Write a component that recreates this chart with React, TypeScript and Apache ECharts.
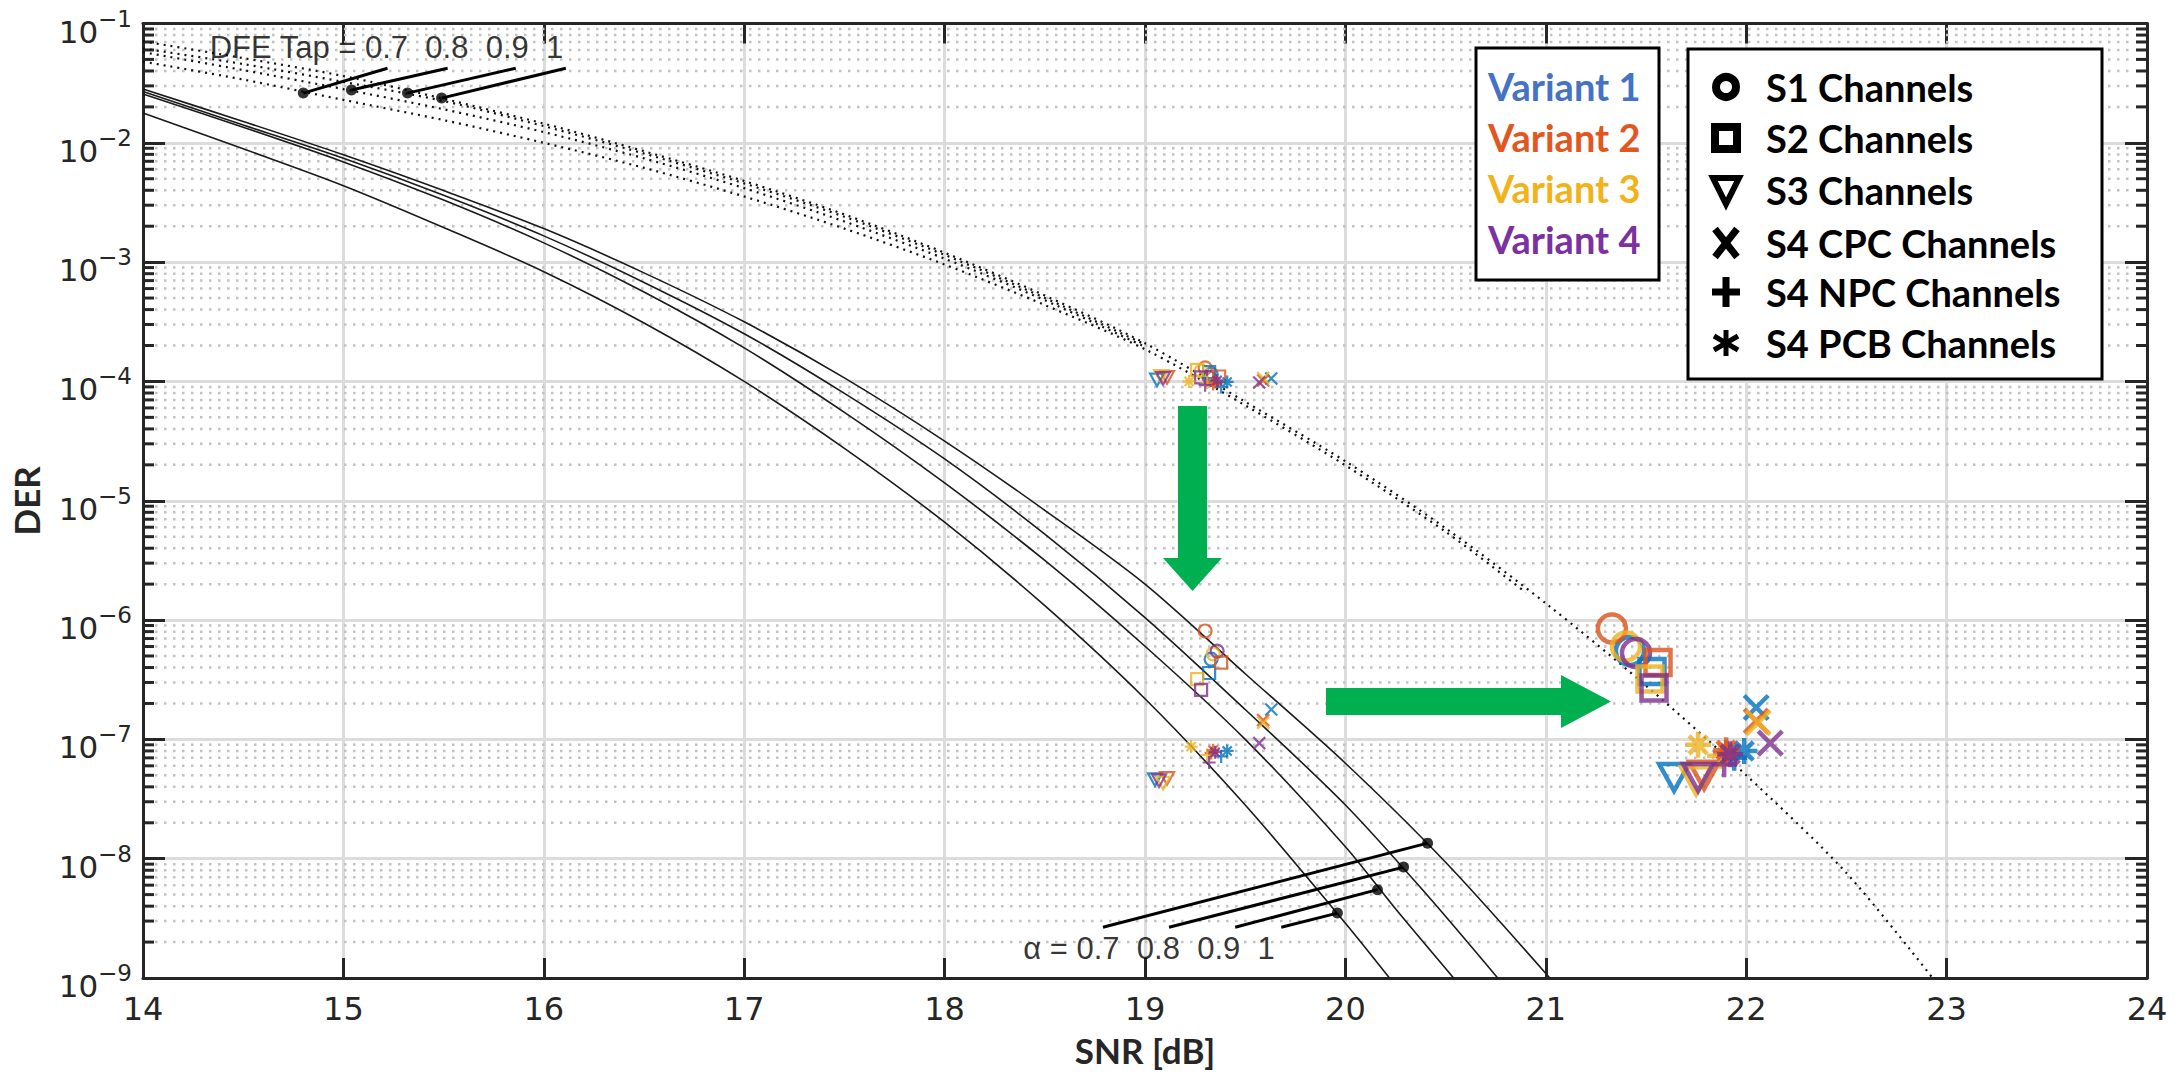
import React, { useEffect, useRef } from "react";
import * as echarts from "echarts";

// ---------------- data ----------------
// DFE (dotted) curves: head part differs per tap, tail (beyond 19 dB) is shared
const SNR_DFE_HEAD = [14, 14.5, 15, 15.5, 16, 16.5, 17, 17.5, 18, 18.5, 19];
const DER_DFE_TAP_07 = [4.79e-2, 3.39e-2, 2.29e-2, 1.55e-2, 1.0e-2, 6.17e-3, 3.55e-3, 1.91e-3, 9.55e-4, 4.37e-4, 1.86e-4];
const DER_DFE_TAP_08 = [5.75e-2, 4.07e-2, 2.82e-2, 1.91e-2, 1.23e-2, 7.41e-3, 4.17e-3, 2.19e-3, 1.07e-3, 4.79e-4, 1.95e-4];
const DER_DFE_TAP_09 = [6.17e-2, 4.57e-2, 3.24e-2, 2.24e-2, 1.38e-2, 8.13e-3, 4.57e-3, 2.4e-3, 1.15e-3, 5.01e-4, 2.04e-4];
const DER_DFE_TAP_10 = [7.08e-2, 5.13e-2, 3.63e-2, 2.34e-2, 1.45e-2, 8.51e-3, 4.79e-3, 2.51e-3, 1.2e-3, 5.25e-4, 2.09e-4];
const SNR_DFE_TAIL = [19.5, 20, 20.5, 21, 21.5, 22, 22.5, 22.93];
const DER_DFE_TAIL = [6.76e-5, 2.14e-5, 5.89e-6, 1.38e-6, 2.82e-7, 5.01e-8, 7.59e-9, 1.0e-9];
const SNR_DFE_TAIL_B = [19.5, 20, 20.5, 20.9];
const DER_DFE_TAIL_B = [6.3e-5, 1.98e-5, 5.5e-6, 1.7e-6];

// alpha (solid) curves
const SNR_A07 = [14, 14.5, 15, 15.5, 16, 16.5, 17, 17.5, 18, 18.5, 19, 19.5, 20, 20.5, 21.02];
const DER_A07 = [2.82e-2, 1.51e-2, 7.94e-3, 3.98e-3, 1.91e-3, 8.13e-4, 3.16e-4, 1.07e-4, 3.16e-5, 8.32e-6, 2.0e-6, 3.55e-7, 6.31e-8, 9.33e-9, 1.0e-9];
const SNR_A08 = [14, 14.5, 15, 15.5, 16, 16.5, 17, 17.5, 18, 18.5, 19, 19.5, 20, 20.4, 20.76];
const DER_A08 = [2.69e-2, 1.41e-2, 7.41e-3, 3.63e-3, 1.66e-3, 6.76e-4, 2.51e-4, 7.94e-5, 2.24e-5, 5.25e-6, 1.05e-6, 1.78e-7, 2.82e-8, 5.13e-9, 1.0e-9];
const SNR_A09 = [14, 14.5, 15, 15.5, 16, 16.5, 17, 17.5, 18, 18.5, 19, 19.5, 20, 20.25, 20.54];
const DER_A09 = [2.57e-2, 1.35e-2, 6.92e-3, 3.31e-3, 1.45e-3, 5.62e-4, 1.91e-4, 5.5e-5, 1.41e-5, 3.16e-6, 6.03e-7, 1.0e-7, 1.26e-8, 3.8e-9, 1.0e-9];
const SNR_A10 = [14, 14.5, 15, 15.5, 16, 16.5, 17, 17.5, 18, 18.5, 19, 19.5, 20, 20.22];
const DER_A10 = [1.78e-2, 8.91e-3, 4.37e-3, 1.95e-3, 8.32e-4, 3.09e-4, 1.0e-4, 2.75e-5, 6.61e-6, 1.32e-6, 2.19e-7, 2.82e-8, 2.88e-9, 1.0e-9];

// channel markers: [SNR, DER] for Variant 1..4
const S1_TOP = [[19.33, 1.15e-4], [19.3, 1.3e-4], [19.28, 1.22e-4], [19.32, 1.08e-4]];
const S1_MID = [[19.33, 4.7e-7], [19.3, 8.1e-7], [19.34, 5.2e-7], [19.36, 5.5e-7]];
const S1_RIGHT = [[21.42, 5.5e-7], [21.33, 8.5e-7], [21.4, 6.0e-7], [21.45, 5.3e-7]];
const S2_TOP = [[19.32, 1.2e-4], [19.37, 1.1e-4], [19.26, 1.25e-4], [19.28, 1.08e-4]];
const S2_MID = [[19.32, 3.6e-7], [19.38, 4.4e-7], [19.26, 3.2e-7], [19.28, 2.6e-7]];
const S2_RIGHT = [[21.53, 3.7e-7], [21.56, 4.4e-7], [21.52, 3.2e-7], [21.54, 2.7e-7]];
const S3_TOP = [[19.06, 1.03e-4], [19.11, 1.08e-4], [19.08, 1.1e-4], [19.09, 1.06e-4]];
const S3_MID = [[19.05, 4.6e-8], [19.11, 4.7e-8], [19.09, 4.3e-8], [19.07, 4.5e-8]];
const S3_RIGHT = [[21.64, 4.8e-8], [21.79, 5.0e-8], [21.75, 4.5e-8], [21.76, 4.8e-8]];
const CPC_TOP = [[19.63, 1.06e-4], [19.59, 1.02e-4], [19.59, 1.07e-4], [19.57, 9.8e-5]];
const CPC_MID = [[19.63, 1.78e-7], [19.59, 1.45e-7], [19.59, 1.38e-7], [19.57, 9.3e-8]];
const CPC_RIGHT = [[22.05, 1.85e-7], [22.05, 1.42e-7], [22.06, 1.38e-7], [22.12, 9.3e-8]];
const NPC_TOP = [[19.38, 9.0e-5], [19.34, 9.5e-5], [19.31, 9.8e-5], [19.3, 9.3e-5]];
const NPC_MID = [[19.38, 7.2e-8], [19.33, 7.7e-8], [19.31, 7.4e-8], [19.32, 6.4e-8]];
const NPC_RIGHT = [[21.94, 7.0e-8], [21.9, 7.6e-8], [21.87, 7.3e-8], [21.89, 6.2e-8]];
const PCB_TOP = [[19.41, 9.9e-5], [19.35, 9.9e-5], [19.22, 1.0e-4], [19.36, 1.02e-4]];
const PCB_MID = [[19.41, 8.0e-8], [19.34, 8.1e-8], [19.23, 8.7e-8], [19.35, 7.8e-8]];
const PCB_RIGHT = [[21.99, 8.0e-8], [21.9, 8.1e-8], [21.76, 9.0e-8], [21.92, 7.5e-8]];

// annotations
const DFE_LABEL = "DFE Tap = 0.7  0.8  0.9  1";
const DFE_LABEL_AT = [14.33, 6.3e-2];
const DFE_DOTS = [[14.8, 2.61e-2], [15.04, 2.77e-2], [15.32, 2.61e-2], [15.49, 2.37e-2]];
const DFE_LEADER_FROM = [[15.22, 4.22e-2], [15.52, 4.22e-2], [15.86, 4.22e-2], [16.11, 4.22e-2]];
const ALPHA_LABEL = "\u03b1 = 0.7  0.8  0.9  1";
const ALPHA_LABEL_AT = [18.39, 1.78e-9];
const ALPHA_DOTS = [[20.41, 1.35e-8], [20.29, 8.5e-9], [20.16, 5.5e-9], [19.96, 3.5e-9]];
const ALPHA_LEADER_FROM = [[18.79, 2.66e-9], [19.12, 2.66e-9], [19.45, 2.66e-9], [19.68, 2.66e-9]];

const VARIANT_LABELS = ["Variant 1", "Variant 2", "Variant 3", "Variant 4"];
const VARIANT_TEXT_COLORS = ["#4472C4", "#E2561F", "#F2B21A", "#7B319F"];
const MARKER_COLORS = ["#0072BD", "#D95319", "#EDB120", "#7E2F8E"];
const CHANNEL_LABELS = ["S1 Channels", "S2 Channels", "S3 Channels", "S4 CPC Channels", "S4 NPC Channels", "S4 PCB Channels"];

// ---------------- styling ----------------
const AXIS = "#262626";
const GRID = { left: 137, top: 17, width: 2010, height: 961 };

const P_CIRCLE = "path://M10,5A5,5 0 1,1 0,5A5,5 0 1,1 10,5Z";
const P_SQUARE = "path://M0,0L10,0L10,10L0,10Z";
const P_TRI = "path://M0,0L10,0L5,9Z";
const P_X = "path://M0,0L10,10M10,0L0,10";
const P_PLUS = "path://M5,0L5,10M0,5L10,5";
const P_STAR = "path://M5,0L5,10M0,5L10,5M1.5,1.5L8.5,8.5M8.5,1.5L1.5,8.5";

const SHAPES = [
  { path: P_CIRCLE, small: 13, big: 28, groups: [S1_TOP, S1_MID, S1_RIGHT] },
  { path: P_SQUARE, small: 12, big: 25, groups: [S2_TOP, S2_MID, S2_RIGHT] },
  { path: P_TRI, small: 14, big: 30, groups: [S3_TOP, S3_MID, S3_RIGHT] },
  { path: P_X, small: 12, big: 24, groups: [CPC_TOP, CPC_MID, CPC_RIGHT] },
  { path: P_PLUS, small: 13, big: 26, groups: [NPC_TOP, NPC_MID, NPC_RIGHT] },
  { path: P_STAR, small: 13, big: 26, groups: [PCB_TOP, PCB_MID, PCB_RIGHT] },
];

const zip = (xs: number[], ys: number[]) => xs.map((x, i) => [x, ys[i]]);

function buildOption() {
  const minorTicks: number[][] = [];
  for (let e = -9; e <= -2; e++) {
    for (let k = 2; k <= 9; k++) minorTicks.push([14, k * Math.pow(10, e)]);
  }

  const series: any[] = [];

  series.push({
    type: "custom",
    name: "minor-grid",
    xAxisIndex: 0,
    yAxisIndex: 0,
    z: 1,
    silent: true,
    clip: false,
    encode: { x: 0, y: 1 },
    data: minorTicks,
    renderItem: (params: any, api: any) => {
      const p = api.coord([14, api.value(1)]);
      const cs = params.coordSys;
      const y = p[1];
      return {
        type: "group",
        children: [
          {
            type: "line",
            shape: { x1: cs.x + 12, y1: y, x2: cs.x + cs.width - 12, y2: y },
            style: { stroke: "#c2c2c2", lineWidth: 2.5, lineDash: [2.5, 6.5] },
          },
          { type: "line", shape: { x1: cs.x, y1: y, x2: cs.x + 11, y2: y }, style: { stroke: AXIS, lineWidth: 3 } },
          {
            type: "line",
            shape: { x1: cs.x + cs.width - 11, y1: y, x2: cs.x + cs.width, y2: y },
            style: { stroke: AXIS, lineWidth: 3 },
          },
        ],
      };
    },
  });

  const dotted = { color: "#111", width: 2.2, type: [2, 5] };
  const dfe = [DER_DFE_TAP_07, DER_DFE_TAP_08, DER_DFE_TAP_09, DER_DFE_TAP_10];
  dfe.forEach((arr, i) => {
    let data = zip(SNR_DFE_HEAD, arr);
    if (i === 3) data = data.concat(zip(SNR_DFE_TAIL, DER_DFE_TAIL));
    if (i === 0) data = data.concat(zip(SNR_DFE_TAIL_B, DER_DFE_TAIL_B));
    series.push({
      type: "line",
      name: "DFE " + i,
      z: 2,
      silent: true,
      showSymbol: false,
      smooth: 0.3,
      data,
      lineStyle: dotted,
    });
  });

  const alpha = [
    [SNR_A07, DER_A07],
    [SNR_A08, DER_A08],
    [SNR_A09, DER_A09],
    [SNR_A10, DER_A10],
  ];
  alpha.forEach(([xs, ys], i) => {
    series.push({
      type: "line",
      name: "alpha " + i,
      z: 2,
      silent: true,
      showSymbol: false,
      smooth: 0.3,
      data: zip(xs, ys),
      lineStyle: { color: "#1a1a1a", width: 1.6 },
    });
  });

  // markers
  SHAPES.forEach((sh, si) => {
    MARKER_COLORS.forEach((c, vi) => {
      series.push({
        type: "scatter",
        name: CHANNEL_LABELS[si] + " V" + (vi + 1),
        z: 3,
        silent: true,
        symbol: sh.path,
        symbolSize: sh.small,
        symbolKeepAspect: true,
        data: [sh.groups[0][vi], sh.groups[1][vi]],
        itemStyle: { color: "none", borderColor: c, borderWidth: 2.2 },
      });
      series.push({
        type: "scatter",
        name: CHANNEL_LABELS[si] + " V" + (vi + 1) + " big",
        z: 3,
        silent: true,
        symbol: sh.path,
        symbolSize: sh.big,
        symbolKeepAspect: true,
        data: [sh.groups[2][vi]],
        itemStyle: { color: "none", borderColor: c, borderWidth: 4.5 },
      });
    });
  });

  // leader lines and dots
  const leaders = [
    [DFE_LEADER_FROM, DFE_DOTS],
    [ALPHA_LEADER_FROM, ALPHA_DOTS],
  ];
  leaders.forEach(([from, to]) => {
    from.forEach((f, i) => {
      series.push({
        type: "line",
        z: 4,
        silent: true,
        showSymbol: false,
        data: [f, to[i]],
        lineStyle: { color: "#000", width: 3 },
      });
    });
    series.push({
      type: "scatter",
      z: 5,
      silent: true,
      symbol: "circle",
      symbolSize: 11,
      data: to,
      itemStyle: { color: "#000" },
    });
  });

  const labelStyle = { fontFamily: "Liberation Sans", fontSize: 31, color: "#000" };
  [
    [DFE_LABEL_AT, DFE_LABEL],
    [ALPHA_LABEL_AT, ALPHA_LABEL],
  ].forEach(([pos, text]: any) => {
    series.push({
      type: "scatter",
      z: 5,
      silent: true,
      symbol: "circle",
      symbolSize: 1,
      data: [pos],
      itemStyle: { color: "rgba(0,0,0,0)" },
      label: { show: true, position: "right", distance: 0, formatter: text, ...labelStyle },
    });
  });

  // ---------- graphic: arrows and legend boxes ----------
  const green = "#00B050";
  const graphic: any[] = [
    {
      type: "polygon",
      z: 100,
      shape: { points: [[1178, 406], [1207, 406], [1207, 558], [1222, 558], [1192.5, 591], [1163, 558], [1178, 558]] },
      style: { fill: green },
    },
    {
      type: "polygon",
      z: 100,
      shape: { points: [[1326, 688], [1561, 688], [1561, 675], [1611, 701.5], [1561, 728], [1561, 715], [1326, 715]] },
      style: { fill: green },
    },
    {
      type: "rect",
      z: 100,
      shape: { x: 1476, y: 48, width: 183, height: 232 },
      style: { fill: "#fff", stroke: "#000", lineWidth: 3 },
    },
    {
      type: "rect",
      z: 100,
      shape: { x: 1688, y: 49, width: 414, height: 330 },
      style: { fill: "#fff", stroke: "#000", lineWidth: 3 },
    },
  ];
  const v1y = [86, 137, 188, 239];
  VARIANT_LABELS.forEach((t, i) => {
    graphic.push({
      type: "text",
      z: 101,
      x: 1488,
      y: v1y[i],
      style: {
        text: t,
        fill: VARIANT_TEXT_COLORS[i],
        font: "bold 38px Lato",
        textAlign: "left",
        textVerticalAlign: "middle",
        align: "left",
        verticalAlign: "middle",
      },
    });
  });
  const rows = [87, 138, 190, 243, 292, 343];
  CHANNEL_LABELS.forEach((t, i) => {
    graphic.push({
      type: "text",
      z: 101,
      x: 1766,
      y: rows[i],
      style: {
        text: t,
        fill: "#000",
        font: "bold 38px Lato",
        textAlign: "left",
        textVerticalAlign: "middle",
        align: "left",
        verticalAlign: "middle",
      },
    });
  });
  const ix = 1726;
  const ico = { fill: "none", stroke: "#000", lineWidth: 7 };
  graphic.push(
    { type: "circle", z: 101, shape: { cx: ix, cy: rows[0], r: 10 }, style: { ...ico, lineWidth: 8 } },
    { type: "rect", z: 101, shape: { x: ix - 11, y: rows[1] - 11, width: 22, height: 22 }, style: { ...ico, lineWidth: 8 } },
    {
      type: "polygon",
      z: 101,
      shape: { points: [[ix - 13, rows[2] - 12], [ix + 13, rows[2] - 12], [ix, rows[2] + 14]] },
      style: { ...ico, lineWidth: 6 },
    },
    { type: "line", z: 101, shape: { x1: ix - 11, y1: rows[3] - 14, x2: ix + 11, y2: rows[3] + 14 }, style: ico },
    { type: "line", z: 101, shape: { x1: ix + 11, y1: rows[3] - 14, x2: ix - 11, y2: rows[3] + 14 }, style: ico },
    { type: "line", z: 101, shape: { x1: ix, y1: rows[4] - 15, x2: ix, y2: rows[4] + 15 }, style: ico },
    { type: "line", z: 101, shape: { x1: ix - 14, y1: rows[4], x2: ix + 14, y2: rows[4] }, style: ico },
    { type: "line", z: 101, shape: { x1: ix, y1: rows[5] - 13, x2: ix, y2: rows[5] + 13 }, style: { ...ico, lineWidth: 5 } },
    { type: "line", z: 101, shape: { x1: ix - 12, y1: rows[5] - 7, x2: ix + 12, y2: rows[5] + 7 }, style: { ...ico, lineWidth: 5 } },
    { type: "line", z: 101, shape: { x1: ix + 12, y1: rows[5] - 7, x2: ix - 12, y2: rows[5] + 7 }, style: { ...ico, lineWidth: 5 } }
  );

  const axisLine = { show: true, onZero: false, lineStyle: { color: AXIS, width: 3 } };
  const tick = (len: number) => ({ show: true, inside: true, length: len, lineStyle: { color: AXIS, width: 3 } });
  const nameStyle = { fontFamily: "Lato", fontWeight: "bold", fontSize: 35, color: AXIS };

  return {
    animation: false,
    backgroundColor: "#fff",
    grid: { ...GRID, containLabel: false },
    xAxis: [
      {
        type: "value",
        min: 14,
        max: 24,
        interval: 1,
        position: "bottom",
        name: "SNR [dB]",
        nameLocation: "middle",
        nameGap: 54,
        nameTextStyle: nameStyle,
        axisLine,
        axisTick: tick(20),
        axisLabel: { show: true, margin: 15, fontFamily: "DejaVu Sans", fontSize: 32, color: AXIS },
        splitLine: { show: true, lineStyle: { color: "#dcdcdc", width: 3 } },
      },
      {
        type: "value",
        min: 14,
        max: 24,
        interval: 1,
        position: "top",
        axisLine,
        axisTick: tick(20),
        axisLabel: { show: false },
        splitLine: { show: false },
      },
    ],
    yAxis: [
      {
        type: "log",
        logBase: 10,
        min: 1e-9,
        max: 1e-1,
        splitNumber: 8,
        position: "left",
        name: "DER",
        nameLocation: "middle",
        nameRotate: 90,
        nameGap: 100,
        nameTextStyle: nameStyle,
        axisLine,
        axisTick: tick(22),
        axisLabel: {
          show: true,
          margin: 11,
          formatter: (v: number) => {
            const e = Math.round(Math.log10(v));
            return "{b|10}{s|\u2212" + -e + "}";
          },
          rich: {
            b: { fontFamily: "DejaVu Sans", fontSize: 31, color: AXIS, lineHeight: 28, padding: [16, 0, 0, 0] },
            s: { fontFamily: "DejaVu Sans", fontSize: 23, color: AXIS, lineHeight: 22, padding: [6, 0, 16, 0] },
          },
        },
        splitLine: { show: true, lineStyle: { color: "#dcdcdc", width: 3 } },
      },
      {
        type: "log",
        logBase: 10,
        min: 1e-9,
        max: 1e-1,
        splitNumber: 8,
        position: "right",
        axisLine,
        axisTick: tick(22),
        axisLabel: { show: false },
        splitLine: { show: false },
      },
    ],
    series,
    graphic,
  };
}

export default function App() {
  const ref = useRef<HTMLDivElement>(null);
  useEffect(() => {
    if (!ref.current) return;
    const chart = echarts.init(ref.current, null, { renderer: "svg" });
    chart.setOption(buildOption() as any);
    return () => chart.dispose();
  }, []);
  return (
    <div
      ref={ref}
      style={{ position: "fixed", left: 0, top: 0, width: 2176, height: 1074, background: "#fff" }}
    />
  );
}
